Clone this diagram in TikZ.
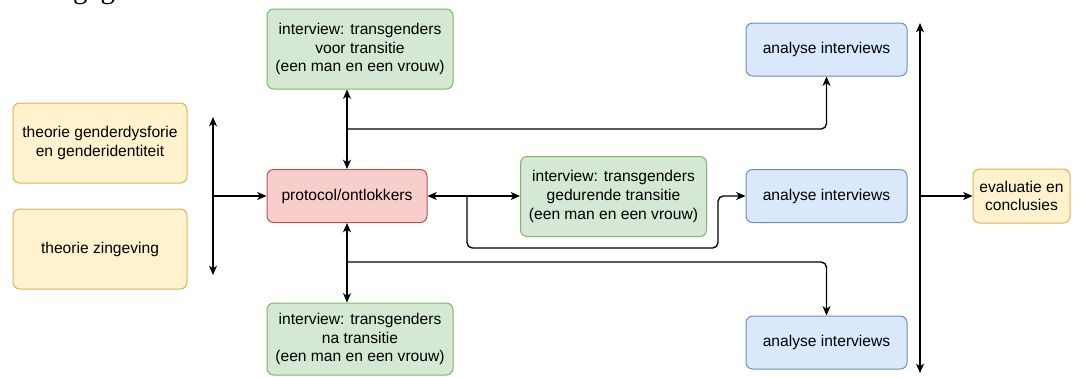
\documentclass[tikz,border=0pt]{standalone}
\usepackage{fontspec}
\newfontfamily\diafont{Liberation Sans}
\newfontfamily\pagefont{Liberation Serif}
\usetikzlibrary{arrows.meta}

\tikzset{every picture/.style={line width=0.75pt}}
\tikzset{
  box/.style={draw, rounded corners=5pt, align=center, inner sep=0.75pt, line width=0.75pt,
    font=\diafont\fontsize{11.7}{14}\selectfont},
  theorybox/.style={box, draw={rgb, 255:red, 214; green, 182; blue, 86 }, fill={rgb, 255:red, 255; green, 242; blue, 204 },
    minimum width=130.5pt, minimum height=60pt},
  protobox/.style={box, draw={rgb, 255:red, 184; green, 84; blue, 80 }, fill={rgb, 255:red, 248; green, 206; blue, 204 },
    minimum width=120pt, minimum height=39.75pt},
  interviewbox/.style={box, draw={rgb, 255:red, 130; green, 179; blue, 102 }, fill={rgb, 255:red, 213; green, 232; blue, 212 },
    minimum width=139.5pt, minimum height=60pt},
  analysebox/.style={box, draw={rgb, 255:red, 108; green, 142; blue, 191 }, fill={rgb, 255:red, 218; green, 232; blue, 252 },
    minimum width=120.75pt, minimum height=39.75pt},
  evalbox/.style={box, draw={rgb, 255:red, 214; green, 182; blue, 86 }, fill={rgb, 255:red, 255; green, 242; blue, 204 },
    minimum width=72.75pt, minimum height=40.5pt},
  link/.style={line width=1pt, rounded corners=4pt, -{Stealth[length=7pt,width=6pt,inset=2pt]}},
  twoway/.style={link, {Stealth[length=7pt,width=6pt,inset=2pt]}-{Stealth[length=7pt,width=6pt,inset=2pt]}},
}

\begin{document}
\begin{tikzpicture}[x=0.75pt,y=0.75pt,yscale=-1,xscale=1]
  \useasboundingbox (0,0) rectangle (1082,376);
  \begin{scope}
    \clip (0,0) rectangle (1082,376);
    \node (pageText) [anchor=base west, inner sep=0pt, font=\pagefont\fontsize{21.7}{26}\selectfont] at (17,-2) {weergegeven.};
    \node (intNa) [interviewbox, minimum height=54pt] at (360,339) {interview: transgenders\\na transitie\\(een man en een vrouw)};
  \end{scope}

  % theorie
  \node (theoGender) [theorybox] at (100,143) {theorie genderdysforie\\en genderidentiteit};
  \node (theoZin) [theorybox] at (100,249) {theorie zingeving};

  % protocol en interviews
  \node (proto) [protobox] at (347,196) {protocol/ontlokkers};
  \node (intVoor) [interviewbox] at (360,49) {interview: transgenders\\voor transitie\\(een man en een vrouw)};
  \node (intGedurende) [interviewbox] at (613.5,196.5) {interview: transgenders\\gedurende transitie\\(een man en een vrouw)};

  % analyse
  \node (anaVoor) [analysebox] at (826.5,49.5) {analyse interviews};
  \node (anaGedurende) [analysebox] at (826.5,196) {analyse interviews};
  \node (anaNa) [analysebox] at (826.5,342.5) {analyse interviews};
  \node (evalu) [evalbox] at (1021.5,196) {evaluatie en\\conclusies};

  \coordinate (inTop) at (213,117);
  \coordinate (inBot) at (213,275);
  \coordinate (upSplit) at (347,129);
  \coordinate (downSplit) at (347,262);
  \coordinate (midSplit) at (467,196);
  \coordinate (outTop) at (920,23);
  \coordinate (outBot) at (920,373);

  \draw [twoway] (inTop) -- (inBot);
  \draw [link] (inTop |- proto) -- (proto.west);

  \draw [twoway] (proto.north) -- (proto.north |- intVoor.south);
  \draw [twoway] (proto.south) -- (proto.south |- intNa.north);
  \draw [twoway] (proto.east) -- (proto.east -| intGedurende.west);
  \draw [link] (upSplit) -| (anaVoor.south);
  \draw [link] (downSplit) -| (anaNa.north);
  \draw [link] (midSplit) -- ++(0,52) -- ++(251,0) -- ++(0,-52) -- (anaGedurende.west);

  \draw [twoway] (outTop) -- (outBot);
  \draw [link] (outTop |- anaGedurende) -- (evalu.west);
\end{tikzpicture}
\end{document}
